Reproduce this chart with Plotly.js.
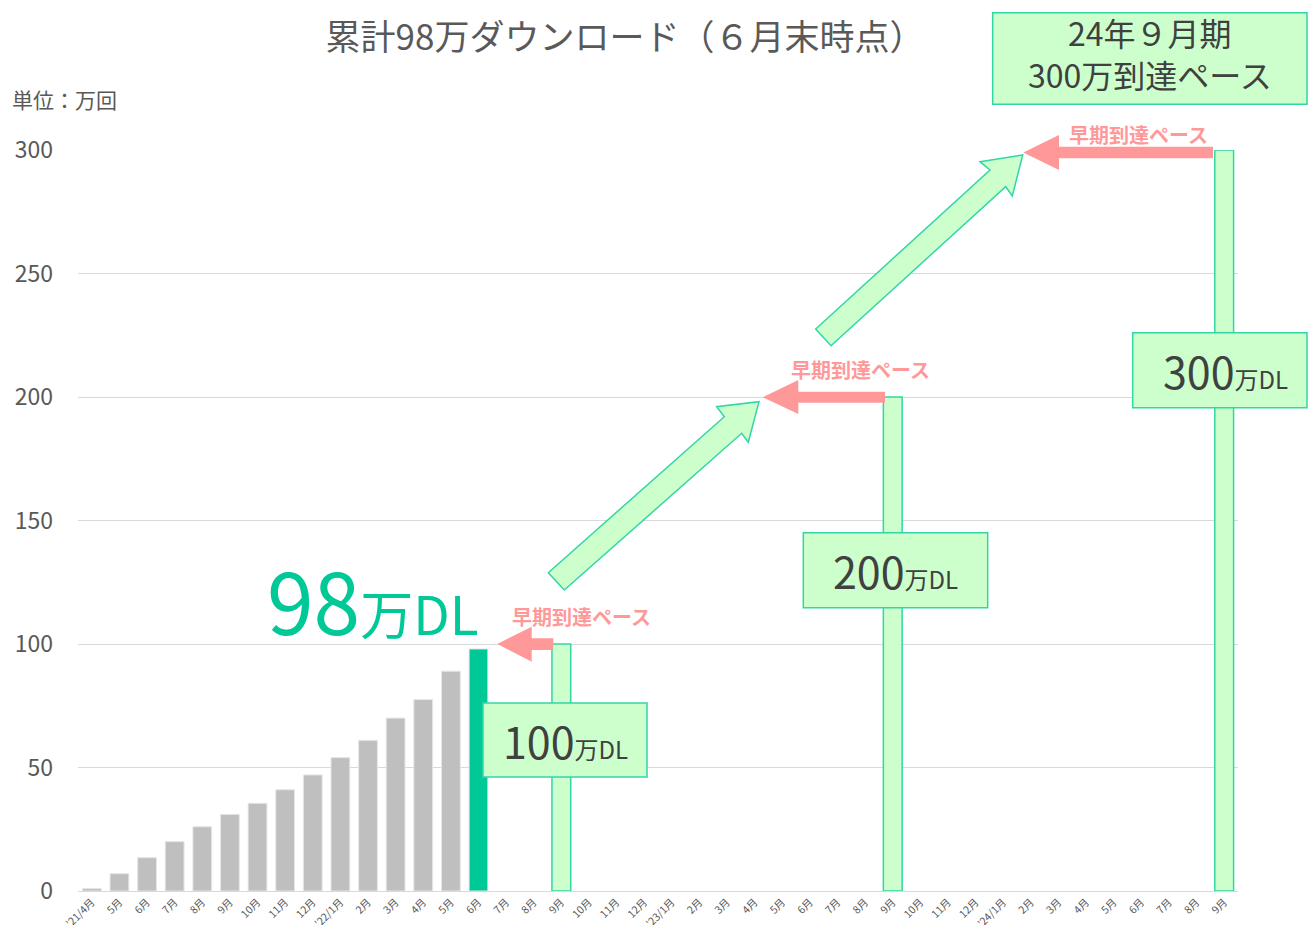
<!DOCTYPE html>
<html>
<head>
<meta charset="utf-8">
<script src="https://cdn.plot.ly/plotly-3.0.1.min.js"></script>
<style>html,body{margin:0;padding:0;background:#fff;}#chart{width:1309px;height:925px;}</style>
</head>
<body>
<div id="chart"></div>
<script>
// ---- data ----
const categories = ["21/4","21/5","21/6","21/7","21/8","21/9","21/10","21/11","21/12",
  "22/1","22/2","22/3","22/4","22/5","22/6","22/7","22/8","22/9","22/10","22/11","22/12",
  "23/1","23/2","23/3","23/4","23/5","23/6","23/7","23/8","23/9","23/10","23/11","23/12",
  "24/1","24/2","24/3","24/4","24/5","24/6","24/7","24/8","24/9"];
const tickLabels = ["'21/4月","5月","6月","7月","8月","9月","10月","11月","12月",
  "'22/1月","2月","3月","4月","5月","6月","7月","8月","9月","10月","11月","12月",
  "'23/1月","2月","3月","4月","5月","6月","7月","8月","9月","10月","11月","12月",
  "'24/1月","2月","3月","4月","5月","6月","7月","8月","9月"];
const actualMonths = ["21/4","21/5","21/6","21/7","21/8","21/9","21/10","21/11","21/12",
  "22/1","22/2","22/3","22/4","22/5","22/6"];
const actualValues = [1, 7, 13.5, 20, 26, 31, 35.5, 41, 47, 54, 61, 70, 77.5, 89, 98];
const targetMonths = ["22/9","23/9","24/9"];
const targetValues = [100, 200, 300];

// ---- styling ----
const FONT = "'Noto Sans CJK JP','Noto Sans',sans-serif";
const GRAY_TXT = "#595959";
const DARK_TXT = "#404040";
const GREEN = "#00c896";
const PINK = "#ff9999";
const BOX_FILL = "#ccffcc";
const BOX_LINE = "#33d6a5";

const L = 78, T = 150, W = 1160, H = 741;
const px = x => (x - L) / W;
const py = y => (T + H - y) / H;
const path = pts => "M " + pts.map(p => px(p[0]).toFixed(5) + "," + py(p[1]).toFixed(5)).join(" L ") + " Z";

const actualColors = actualValues.map((v, i) => i === actualValues.length - 1 ? GREEN : "#bfbfbf");

const traces = [
  {
    type: "bar", x: actualMonths, y: actualValues,
    marker: {color: actualColors, line: {color: "#e6e6e6", width: 1}},
    width: 0.68, hoverinfo: "x+y"
  },
  {
    type: "bar", x: targetMonths, y: targetValues,
    marker: {color: BOX_FILL, line: {color: BOX_LINE, width: 1.5}},
    width: 0.68, hoverinfo: "x+y"
  }
];

const shapeBase = {type: "path", xref: "paper", yref: "paper", layer: "above"};
const shapes = [
  // green growth arrows
  Object.assign({}, shapeBase, {path: path([[548.3,572.7],[724.3,416.7],[716.7,406.7],[759,401.7],[748.3,442.3],[741.7,433.3],[564.3,590]]),
    fillcolor: BOX_FILL, line: {color: BOX_LINE, width: 1.5}}),
  Object.assign({}, shapeBase, {path: path([[815.7,329],[990,170],[980,161.7],[1022.7,155],[1012.3,196],[1005.7,186.7],[831,345.7]]),
    fillcolor: BOX_FILL, line: {color: BOX_LINE, width: 1.5}}),
  // pink early arrows
  Object.assign({}, shapeBase, {path: path([[553.3,638.3],[531.7,638.3],[531.7,626.7],[497.3,644],[531.7,661.7],[531.7,650],[553.3,650]]),
    fillcolor: PINK, line: {width: 0}}),
  Object.assign({}, shapeBase, {path: path([[885,391.7],[798.3,391.7],[798.3,380],[762.7,397.2],[798.3,414],[798.3,402.7],[885,402.7]]),
    fillcolor: PINK, line: {width: 0}}),
  Object.assign({}, shapeBase, {path: path([[1213,146.7],[1059,146.7],[1059,135],[1023.3,152.5],[1059,170],[1059,158.3],[1213,158.3]]),
    fillcolor: PINK, line: {width: 0}}),
];
const boxes = [[483,703,647,777],[803.3,532.7,987.7,607.7],[1132.7,332.7,1307,407.7],[992.7,12.7,1307,104.3]];
boxes.forEach(b => shapes.push({type: "rect", xref: "paper", yref: "paper", layer: "above",
  x0: px(b[0]), x1: px(b[2]), y0: py(b[3]), y1: py(b[1]),
  fillcolor: BOX_FILL, line: {color: BOX_LINE, width: 1.5}}));

function ann(text, x, y, size, color, extra) {
  return Object.assign({text: text, xref: "paper", yref: "paper", x: px(x), y: py(y),
    xanchor: "center", yanchor: "middle", showarrow: false,
    font: {family: FONT, size: size, color: color}}, extra || {});
}
const sm = s => "<span style='font-size:24px'>" + s + "</span>";
const annotations = [
  ann("98<span style='font-size:53px'>万DL</span>", 373, 598, 84, GREEN),
  ann("100" + sm("万DL"), 565, 740, 43, DARK_TXT),
  ann("200" + sm("万DL"), 895, 570, 43, DARK_TXT),
  ann("300" + sm("万DL"), 1225, 370, 43, DARK_TXT),
  ann("24年９月期<br>300万到達ペース", 1150, 53, 32, DARK_TXT),
  ann("<b>早期到達ペース</b>", 581, 616, 20, PINK),
  ann("<b>早期到達ペース</b>", 860, 369, 20, PINK),
  ann("<b>早期到達ペース</b>", 1138, 134, 20, PINK),
  ann("単位：万回", 10, 99, 21, GRAY_TXT, {xanchor: "left"}),
];

const layout = {
  width: 1309, height: 925,
  margin: {l: L, r: 1309 - L - W, t: T, b: 925 - T - H, pad: 0},
  paper_bgcolor: "#ffffff", plot_bgcolor: "#ffffff",
  font: {family: FONT, color: GRAY_TXT},
  title: {text: "累計98万ダウンロード（６月末時点）", x: 625 / 1309, xref: "container", xanchor: "center",
    y: 1 - 38 / 925, yref: "container", yanchor: "middle", font: {family: FONT, size: 35, color: GRAY_TXT}},
  showlegend: false,
  barmode: "overlay",
  xaxis: {type: "category", categoryorder: "array", categoryarray: categories,
    tickvals: categories, ticktext: tickLabels, tickangle: -45,
    tickfont: {size: 10.5, color: GRAY_TXT}, range: [-0.5, categories.length - 0.5],
    showline: true, linecolor: "#d9d9d9", linewidth: 1, showgrid: false, ticks: "", automargin: false, fixedrange: true},
  yaxis: {range: [0, 300], tickvals: [0, 50, 100, 150, 200, 250, 300],
    tickfont: {size: 23, color: GRAY_TXT}, showgrid: true, gridcolor: "#d9d9d9", gridwidth: 1,
    zeroline: false, showline: false, ticks: "", ticklabelstandoff: 24, automargin: false, fixedrange: true},
  shapes: shapes,
  annotations: annotations
};

Plotly.newPlot("chart", traces, layout, {displayModeBar: false, staticPlot: true});
</script>
</body>
</html>
